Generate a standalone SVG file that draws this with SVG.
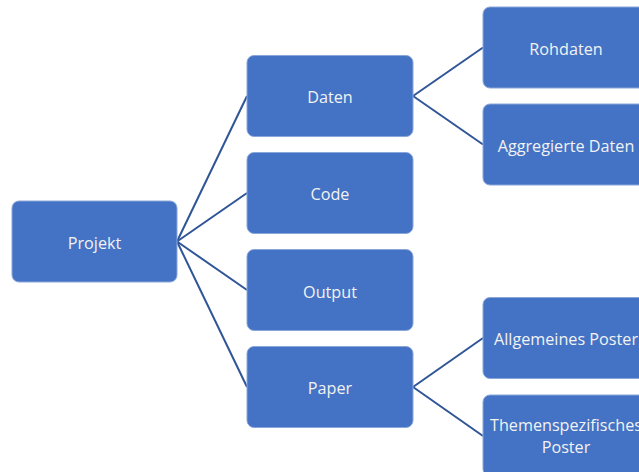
<svg xmlns="http://www.w3.org/2000/svg" width="639" height="472" viewBox="0 0 639 472">
<style>
.box{fill:#4472C4;stroke:#8aa6da;stroke-width:1}
.lbl{fill:#F2F2F2;font-family:"Open Sans","Noto Sans",sans-serif;font-size:16.2px;text-anchor:middle}
.con{stroke:#2F5597;stroke-width:2;fill:none}
</style>
<rect width="639" height="472" fill="#ffffff"/>
<g id="connectors">
<path class="con" d="M177,241.5 L247,96"/>
<path class="con" d="M177,241.5 L247,193"/>
<path class="con" d="M177,241.5 L247,290"/>
<path class="con" d="M177,241.5 L247,387"/>
<path class="con" d="M413,96 L483,47.5"/>
<path class="con" d="M413,96 L483,144.5"/>
<path class="con" d="M413,387 L483,338"/>
<path class="con" d="M413,387 L483,436"/>
</g>
<g id="projekt"><rect class="box" x="12" y="201" width="165" height="81" rx="7"/><text class="lbl" x="94.5" y="248.5">Projekt</text></g>
<g id="daten"><rect class="box" x="247" y="55.5" width="166" height="81" rx="7"/><text class="lbl" x="330" y="103">Daten</text></g>
<g id="code"><rect class="box" x="247" y="152.5" width="166" height="81" rx="7"/><text class="lbl" x="330" y="200">Code</text></g>
<g id="output"><rect class="box" x="247" y="249.5" width="166" height="81" rx="7"/><text class="lbl" x="330" y="297.5">Output</text></g>
<g id="paper"><rect class="box" x="247" y="346.5" width="166" height="81" rx="7"/><text class="lbl" x="330" y="394">Paper</text></g>
<g id="rohdaten"><rect class="box" x="483" y="7" width="166" height="81" rx="7"/><text class="lbl" x="566" y="55">Rohdaten</text></g>
<g id="aggregierte"><rect class="box" x="483" y="104" width="166" height="81" rx="7"/><text class="lbl" x="566" y="152">Aggregierte Daten</text></g>
<g id="allgemeines"><rect class="box" x="483" y="297.5" width="166" height="81" rx="7"/><text class="lbl" x="566" y="345">Allgemeines Poster</text></g>
<g id="themen"><rect class="box" x="483" y="395" width="166" height="81" rx="7"/><text class="lbl" x="566" y="431">Themenspezifisches</text><text class="lbl" x="566" y="452.5">Poster</text></g>
</svg>
